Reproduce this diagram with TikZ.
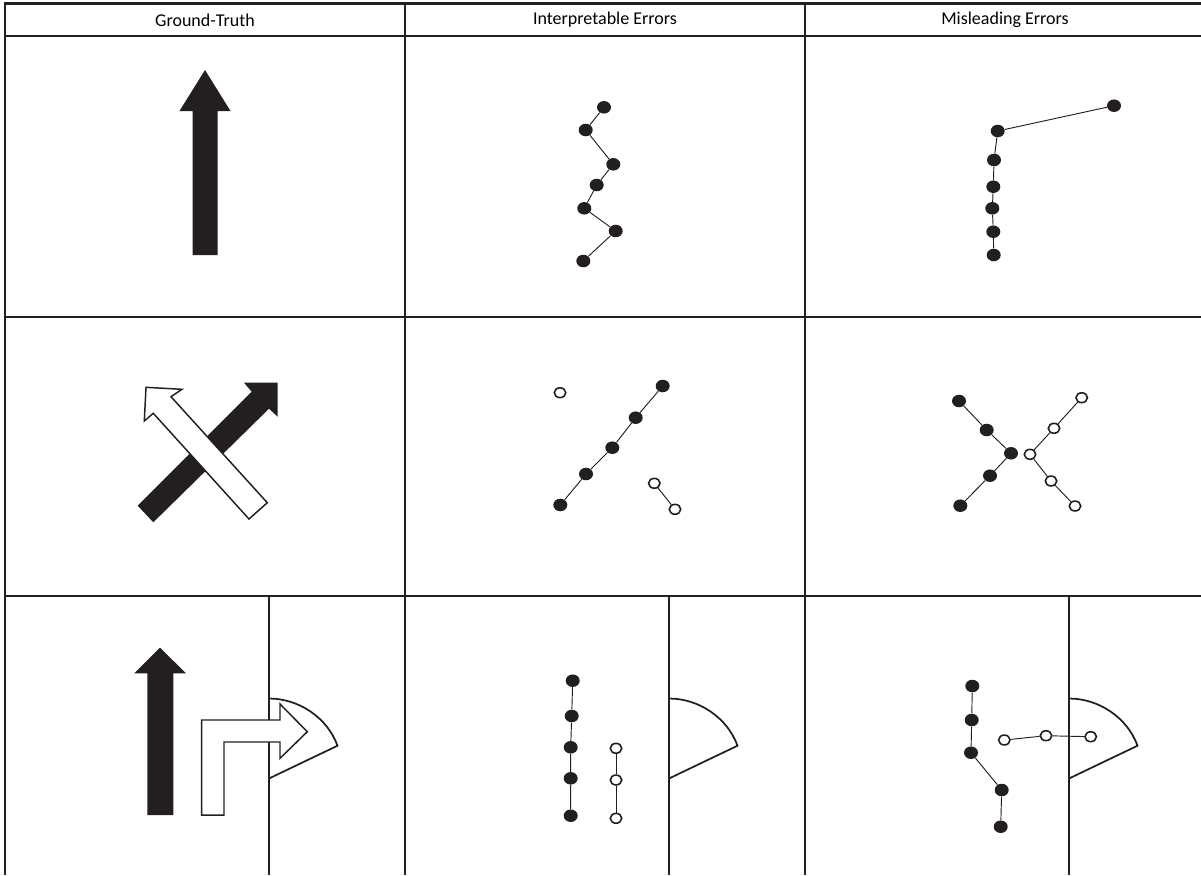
\documentclass[tikz,border=0pt]{standalone}
\usepackage{fontspec}
\setmainfont{Carlito}
\usetikzlibrary{shapes.geometric}
\definecolor{ink}{HTML}{231F20}
\begin{document}
\begin{tikzpicture}[x=0.75pt,y=-0.75pt,
  gridline/.style={draw=ink,line width=2.2pt},
  wall/.style={draw=ink,line width=2pt},
  thinwall/.style={draw=ink,line width=0.8pt},
  door/.style={draw=ink,line width=1.3pt,line join=miter},
  solidarrow/.style={fill=ink},
  openarrow/.style={draw=ink,fill=white,line width=1.1pt,line join=miter},
  fdot/.style={ellipse,fill=ink,inner sep=0pt,minimum width=10.5pt,minimum height=9.4pt},
  odot/.style={ellipse,draw=ink,fill=white,line width=1.2pt,inner sep=0pt,minimum width=8.6pt,minimum height=7.4pt},
  link/.style={draw=ink,line width=0.7pt},
  head/.style={font=\fontsize{13.5pt}{15pt}\selectfont,text=black,inner sep=0pt}]
\useasboundingbox (0,0) rectangle (1201,875);
\fill[white] (0,0) rectangle (1201,875);

% grid
\draw[gridline] (4,3.5) -- (1201,3.5);
\draw[gridline] (4,36) -- (1201,36);
\draw[gridline] (4,317) -- (1201,317);
\draw[gridline] (4,596) -- (1201,596);
\draw[gridline] (5,2) -- (5,875);
\draw[gridline] (405,2) -- (405,875);
\draw[gridline] (805,2) -- (805,875);

% headers
\node[head] (h1) at (205,20) {Ground-Truth};
\node[head] (h2) at (605,20) {Interpretable Errors};
\node[head] (h3) at (1005,20) {Misleading Errors};

% ---------- row 1 ----------
\fill[solidarrow] (205,70) -- (230.5,111) -- (217.5,111) -- (217.5,255) -- (192.5,255) -- (192.5,111) -- (179.5,111) -- cycle;

\node[fdot] (a1) at (604,107.3) {};
\node[fdot] (a2) at (585.7,130) {};
\node[fdot] (a3) at (613.3,164.3) {};
\node[fdot] (a4) at (596.7,185) {};
\node[fdot] (a5) at (584.3,208.3) {};
\node[fdot] (a6) at (615.7,231) {};
\node[fdot] (a7) at (583.3,261) {};
\draw[link] (a1) -- (a2) -- (a3) -- (a4) -- (a5) -- (a6) -- (a7);

\node[fdot] (b1) at (1114,105.7) {};
\node[fdot] (b2) at (997.7,131) {};
\node[fdot] (b3) at (994,160) {};
\node[fdot] (b4) at (993.3,186.7) {};
\node[fdot] (b5) at (992.3,208.3) {};
\node[fdot] (b6) at (993.3,231.7) {};
\node[fdot] (b7) at (993.7,255) {};
\draw[link] (b1) -- (b2) -- (b3) -- (b4) -- (b5) -- (b6) -- (b7);

% ---------- row 2 ----------
\fill[solidarrow] (137.7,505.7) -- (251.7,391.7) -- (244,382.7) -- (277.7,382.7) -- (277.7,416.7) -- (269,408.7) -- (153.3,522.3) -- cycle;
\draw[openarrow] (249,519) -- (153.3,413.3) -- (144.3,421) -- (146,387.3) -- (182,389.3) -- (171,396.7) -- (267.3,502.7) -- cycle;

\node[odot] (c0) at (560,392.7) {};
\node[fdot] (c1) at (662.7,386) {};
\node[fdot] (c2) at (635.7,417.7) {};
\node[fdot] (c3) at (612.3,447.7) {};
\node[fdot] (c4) at (586,474) {};
\node[fdot] (c5) at (560.3,505) {};
\draw[link] (c1) -- (c2) -- (c3) -- (c4) -- (c5);
\node[odot] (c6) at (654.3,483.3) {};
\node[odot] (c7) at (675,509.3) {};
\draw[link] (c6) -- (c7);

\node[fdot] (d1) at (959,401) {};
\node[fdot] (d2) at (986.7,430) {};
\node[fdot] (d3) at (1011,453.3) {};
\node[fdot] (d4) at (990,475.7) {};
\node[fdot] (d5) at (960.3,505.7) {};
\draw[link] (d1) -- (d2) -- (d3) -- (d4) -- (d5);
\node[odot] (e1) at (1081.7,397.7) {};
\node[odot] (e2) at (1054,428.3) {};
\node[odot] (e3) at (1030,454.3) {};
\node[odot] (e4) at (1051,481) {};
\node[odot] (e5) at (1075,506) {};
\draw[link] (e1) -- (e2) -- (e3) -- (e4) -- (e5);

% ---------- row 3 ----------
\foreach \dx in {0,400,800}{
  \begin{scope}[xshift=\dx*0.75pt]
    \draw[wall] (269,596) -- (269,698.5);
    \draw[wall] (269,778.5) -- (269,875);
    \draw[thinwall] (269,698.5) -- (269,778.5);
    \draw[door] (269,698.5) .. controls (298.8,698.5) and (327.3,717.6) .. (337.5,745.7) -- (269,778.5);
  \end{scope}
}

\fill[solidarrow] (160,647.7) -- (186,673.3) -- (173.3,673.3) -- (173.3,815) -- (147.3,815) -- (147.3,673.3) -- (134.3,673.3) -- cycle;
\draw[openarrow] (201.7,815) -- (201.7,720) -- (280,720) -- (280,704) -- (307.3,731.7) -- (280,758.3) -- (280,742) -- (224,742) -- (224,815) -- cycle;

\node[fdot] (f1) at (572.7,680.7) {};
\node[fdot] (f2) at (571.7,716) {};
\node[fdot] (f3) at (570.7,747.3) {};
\node[fdot] (f4) at (570.7,778.3) {};
\node[fdot] (f5) at (570.7,815.7) {};
\draw[link] (f1) -- (f2) -- (f3) -- (f4) -- (f5);
\node[odot] (g1) at (616,748.3) {};
\node[odot] (g2) at (616,780) {};
\node[odot] (g3) at (616,818.3) {};
\draw[link] (g1) -- (g2) -- (g3);

\node[fdot] (k1) at (972.3,686) {};
\node[fdot] (k2) at (971.7,720) {};
\node[fdot] (k3) at (971,752.7) {};
\node[fdot] (k4) at (1001.7,790) {};
\node[fdot] (k5) at (1000.7,826.7) {};
\draw[link] (k1) -- (k2) -- (k3) -- (k4) -- (k5);
\node[odot] (m1) at (1004.3,740) {};
\node[odot] (m2) at (1046,735.7) {};
\node[odot] (m3) at (1090.7,736.7) {};
\draw[link] (m1) -- (m2) -- (m3);
\end{tikzpicture}
\end{document}
